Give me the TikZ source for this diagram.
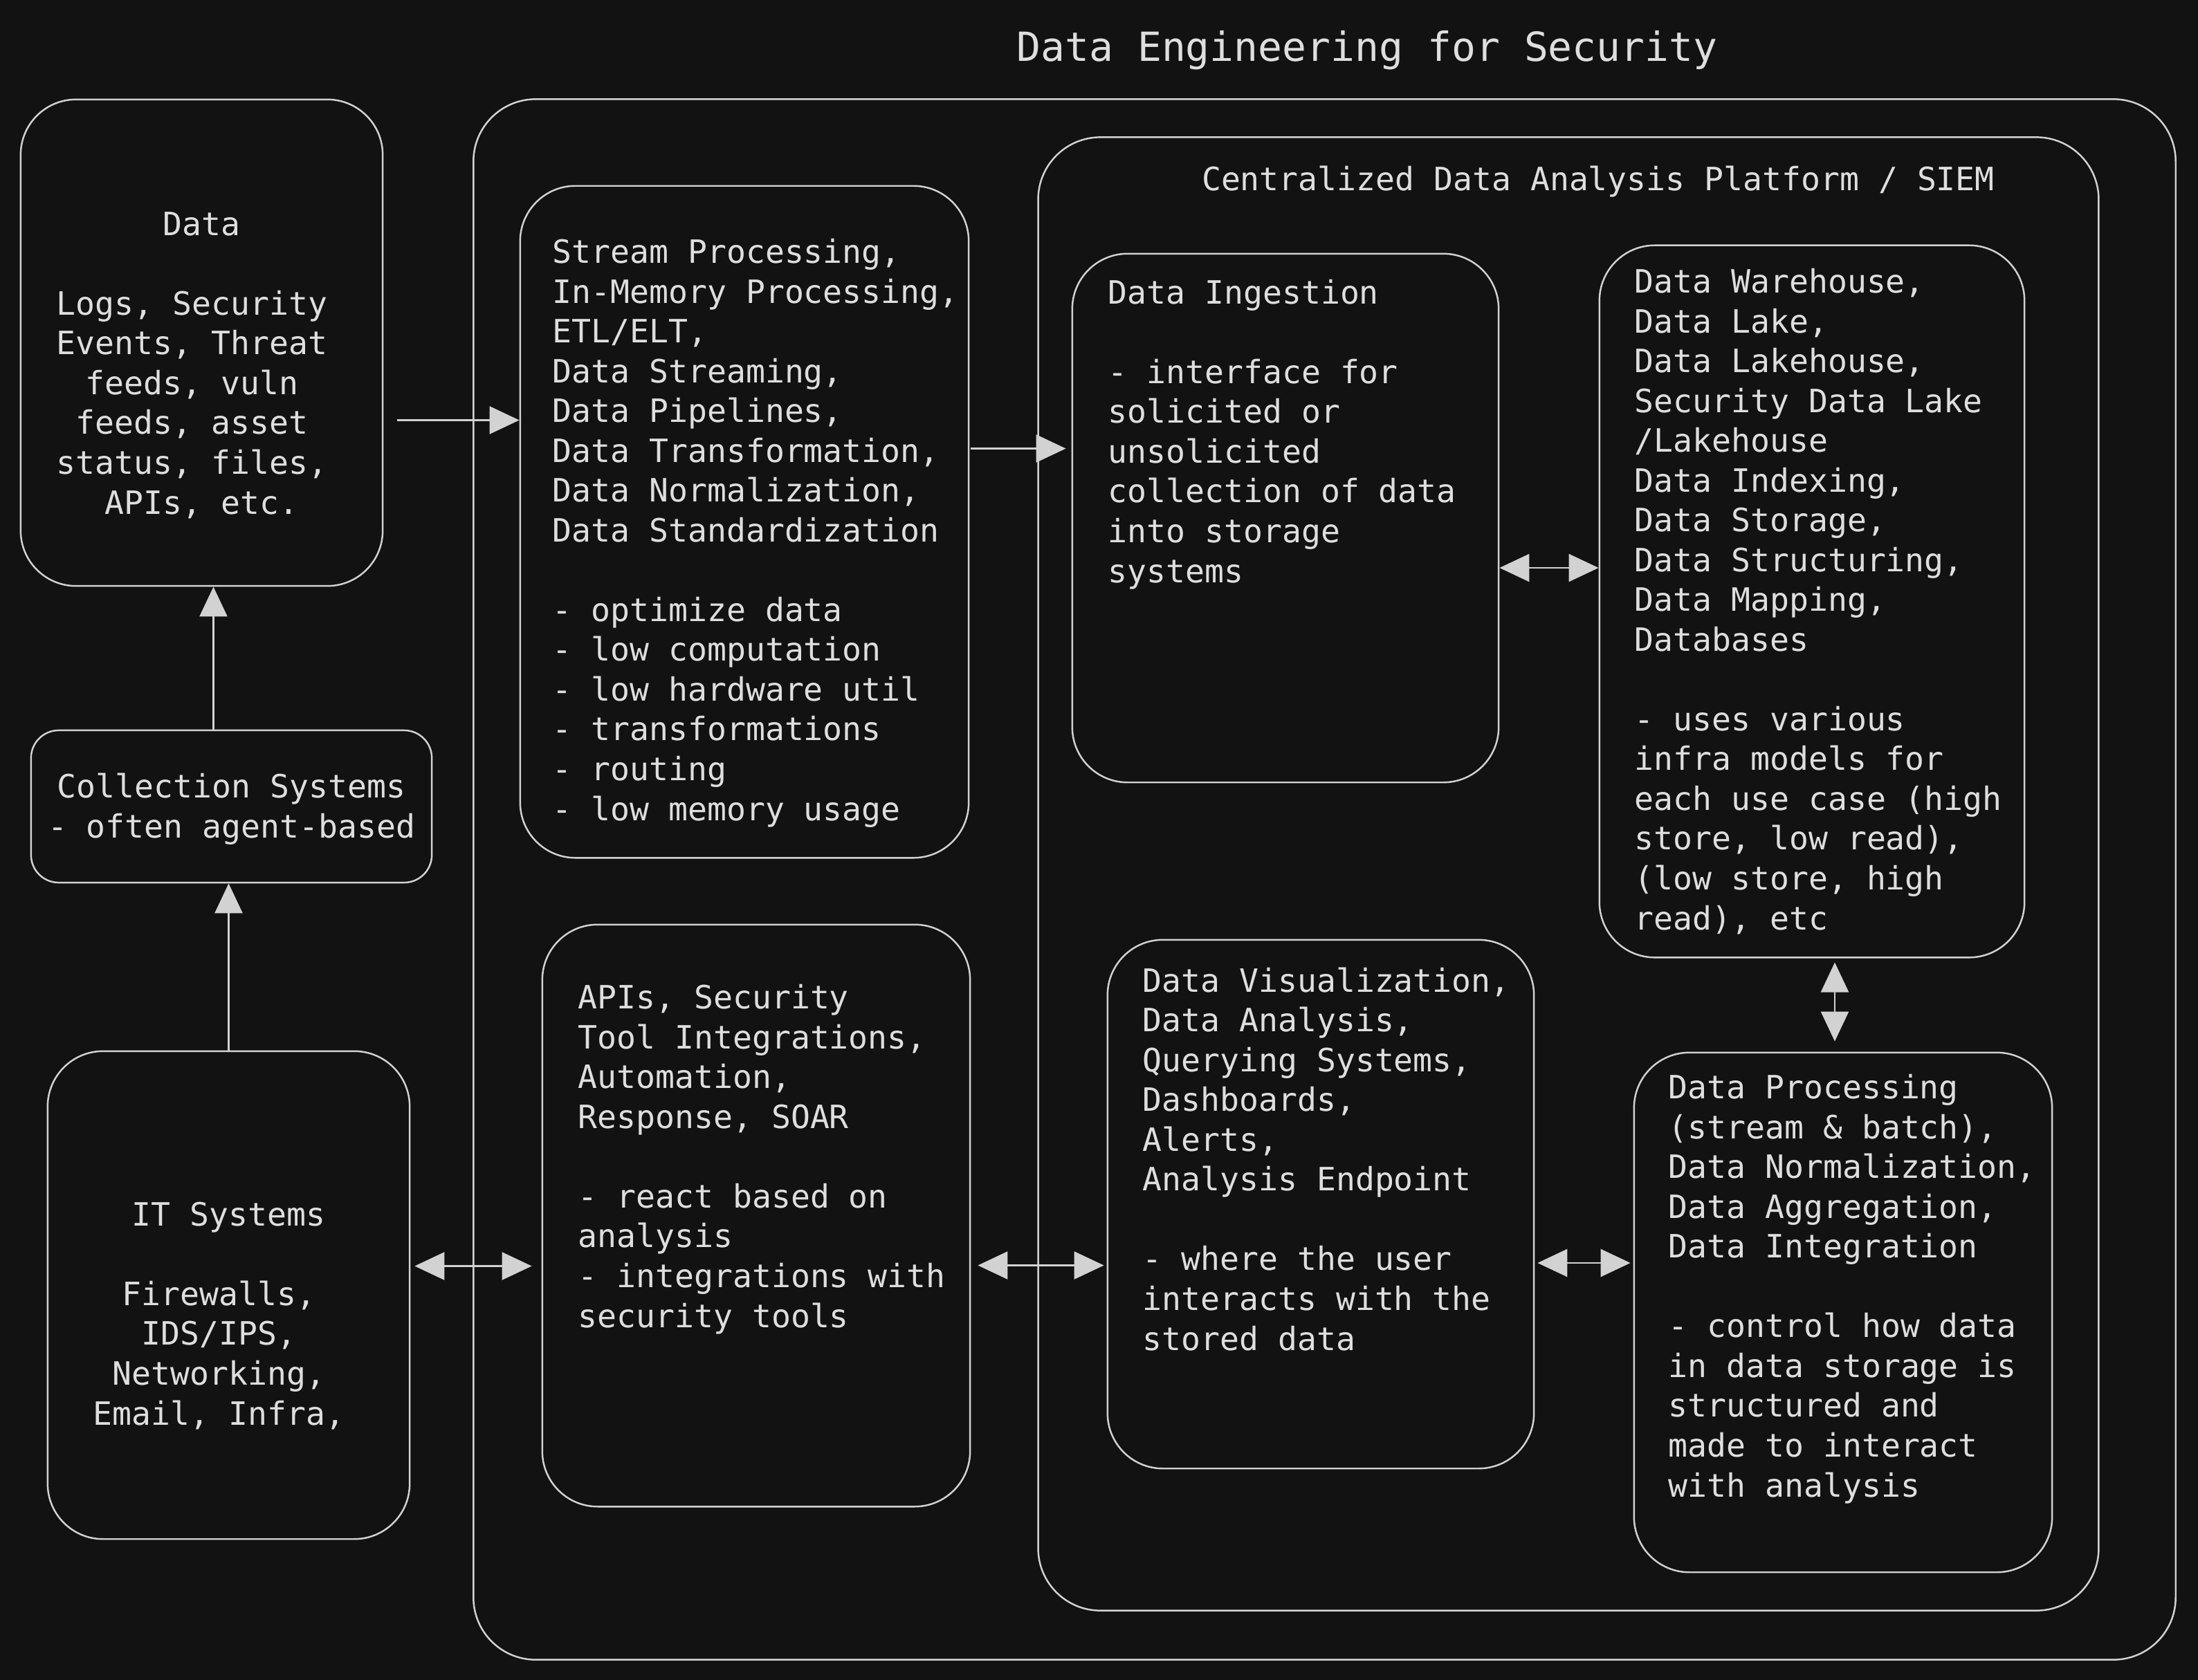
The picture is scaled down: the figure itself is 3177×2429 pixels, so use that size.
\documentclass[tikz,border=0pt]{standalone}
\usepackage{fontspec}
\usepackage{tikz}
\usetikzlibrary{arrows.meta, calc}
\newfontfamily\monof{DejaVu Sans Mono}
\definecolor{bgc}{RGB}{18,18,18}
\definecolor{linec}{RGB}{210,210,210}
\definecolor{txtc}{RGB}{222,222,222}
\newcommand{\trailsp}{\phantom{x}}
\tikzset{
    box/.style={draw=linec, line width=0.7pt, rounded corners=0.8cm, inner sep=0pt},
    txt/.style={text=txtc, inner sep=0pt, align=left,
        font=\monof\fontsize{13.2}{16.36}\selectfont},
    arr/.style={draw=linec, fill=linec, line width=0.7pt,
        -{Triangle[length=4.3mm, width=4mm]}},
    darr/.style={draw=linec, fill=linec, line width=0.7pt,
        {Triangle[length=4.3mm, width=4mm]}-{Triangle[length=4.3mm, width=4mm]}},
}
\begin{document}
\begin{tikzpicture}[x=0.01cm, y=-0.01cm]
    \fill[bgc] (0,0) rectangle (3177,2429);
    \useasboundingbox (0,0) rectangle (3177,2429);

    \node[txt, font=\monof\fontsize{16.5}{20}\selectfont, anchor=base] (title)
        at (1976, 88) {Data Engineering for Security};

    \node[box, minimum width=24.59cm, minimum height=22.55cm, rounded corners=0.9cm] (outer)
        at (1914.5, 1271.5) {};
    \node[box, minimum width=15.32cm, minimum height=21.29cm, rounded corners=0.9cm] (siem)
        at (2267, 1263.5) {};
    \node[txt, anchor=base] (tsiem)
        at (2310, 275) {Centralized Data Analysis Platform / SIEM};

    \node[box, minimum width=5.23cm, minimum height=7.03cm] (data) at (291.5, 495.5) {};
    \node[box, minimum width=5.79cm, minimum height=2.20cm, rounded corners=0.4cm] (coll)
        at (334.5, 1166) {};
    \node[box, minimum width=5.23cm, minimum height=7.05cm] (it) at (330.5, 1872.5) {};
    \node[box, minimum width=6.48cm, minimum height=9.71cm] (stream) at (1076, 754.5) {};
    \node[box, minimum width=6.18cm, minimum height=8.41cm] (apis) at (1093, 1757.5) {};
    \node[box, minimum width=6.16cm, minimum height=7.64cm] (ing) at (1858, 749) {};
    \node[box, minimum width=6.14cm, minimum height=10.29cm] (wh) at (2619, 869.5) {};
    \node[box, minimum width=6.16cm, minimum height=7.64cm] (vis) at (1909, 1741) {};
    \node[box, minimum width=6.04cm, minimum height=7.51cm] (proc) at (2664, 1897.5) {};

    \node[txt, align=center, anchor=base] (tdata) at (291.5, 743)
        {Data\\[\baselineskip]Logs, Security\trailsp\\Events, Threat\trailsp\\feeds, vuln\trailsp\\feeds, asset\trailsp\\status, files,\trailsp\\APIs, etc.};
    \node[txt, align=center, anchor=base] (tcoll) at (334.5, 1211)
        {Collection Systems\\- often agent-based};
    \node[txt, align=center, anchor=base] (tit) at (330.5, 2060)
        {IT Systems\\[\baselineskip]Firewalls,\trailsp\\IDS/IPS,\trailsp\\Networking,\trailsp\\Email, Infra,\trailsp};
    \node[txt, anchor=base west] (tstream) at (798, 1186)
        {Stream Processing,\\In-Memory Processing,\\ETL/ELT,\\Data Streaming,\\Data Pipelines,\\Data Transformation,\\Data Normalization,\\Data Standardization\\[\baselineskip]- optimize data\\- low computation\\- low hardware util\\- transformations\\- routing\\- low memory usage};
    \node[txt, anchor=base west] (tapis) at (835, 1919)
        {APIs, Security\\Tool Integrations,\\Automation,\\Response, SOAR\\[\baselineskip]- react based on\\analysis\\- integrations with\\security tools};
    \node[txt, anchor=base west] (ting) at (1601, 842)
        {Data Ingestion\\[\baselineskip]- interface for\\solicited or\\unsolicited\\collection of data\\into storage\\systems};
    \node[txt, anchor=base west] (twh) at (2362, 1344)
        {Data Warehouse,\\Data Lake,\\Data Lakehouse,\\Security Data Lake\\/Lakehouse\\Data Indexing,\\Data Storage,\\Data Structuring,\\Data Mapping,\\Databases\\[\baselineskip]- uses various\\infra models for\\each use case (high\\store, low read),\\(low store, high\\read), etc};
    \node[txt, anchor=base west] (tvis) at (1651, 1952)
        {Data Visualization,\\Data Analysis,\\Querying Systems,\\Dashboards,\\Alerts,\\Analysis Endpoint\\[\baselineskip]- where the user\\interacts with the\\stored data};
    \node[txt, anchor=base west] (tproc) at (2411, 2164)
        {Data Processing\\(stream \& batch),\\Data Normalization,\\Data Aggregation,\\Data Integration\\[\baselineskip]- control how data\\in data storage is\\structured and\\made to interact\\with analysis};

    \draw[arr] (it.north) -- (it.north |- coll.south);
    \draw[arr] ([xshift=-0.26cm]coll.north) -- ([xshift=-0.26cm]coll.north |- data.south);
    \draw[arr] ($(data.east)+(20,112)$) coordinate (p1) -- (p1 -| stream.west);
    \draw[arr] ($(stream.east)+(2,-106)$) coordinate (p2) -- ($(p2 -| ing.west)+(-8,0)$);
    \draw[darr] ($(ing.east)+(0,72)$) coordinate (p3) -- (p3 -| wh.west);
    \draw[darr] ($(wh.south)+(33,6)$) coordinate (p4) -- ($(p4 |- proc.north)+(0,-15)$);
    \draw[darr] ($(vis.east)+(4,85)$) coordinate (p5) -- ($(p5 -| proc.west)+(-4,0)$);
    \draw[darr] ($(apis.east)+(10,72)$) coordinate (p6) -- ($(p6 -| vis.west)+(-4,0)$);
    \draw[darr] ($(it.east)+(6,-42)$) coordinate (p7) -- ($(p7 -| apis.west)+(-14,0)$);
\end{tikzpicture}
\end{document}
